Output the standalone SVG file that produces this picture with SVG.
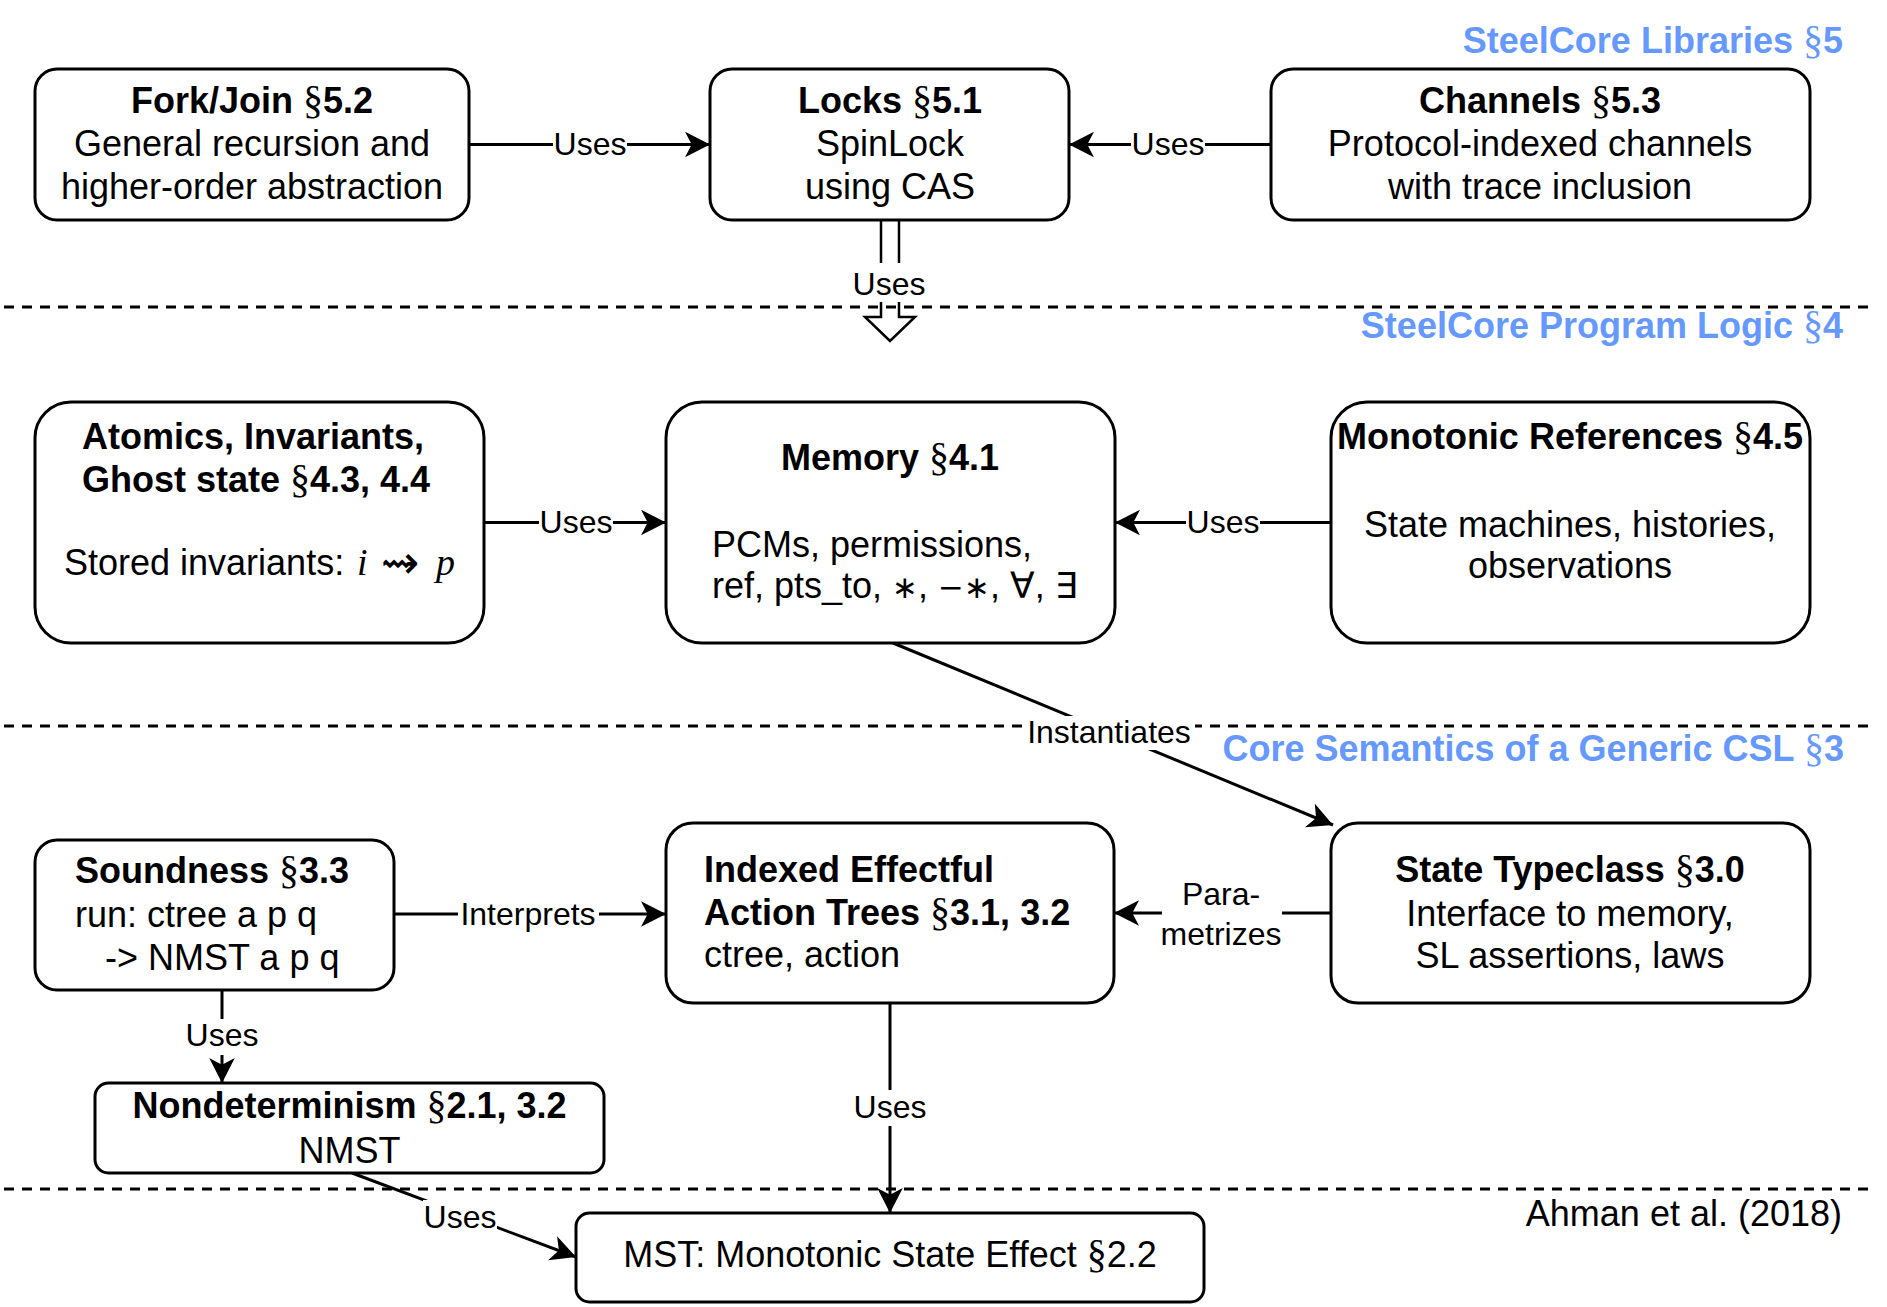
<svg xmlns="http://www.w3.org/2000/svg" width="1887" height="1307" viewBox="0 0 1887 1307">
<defs>
<style>
.box{fill:#fff;stroke:#000;stroke-width:3}
.t{font-family:"Liberation Sans",Arial,Helvetica,sans-serif;font-size:36px;fill:#000}
.b{font-weight:bold}
.c{text-anchor:middle}
.r{text-anchor:end}
.lbl{font-family:"Liberation Sans",Arial,Helvetica,sans-serif;font-size:32px;fill:#000;text-anchor:middle}
.sec{font-family:"Liberation Serif","Times New Roman",serif;font-weight:normal;font-size:40px}
.math{font-family:"DejaVu Sans",sans-serif;font-weight:normal;font-size:31px}
.q{font-family:"DejaVu Sans",sans-serif;font-weight:normal;font-size:36px}
.sq{font-family:"DejaVu Sans",sans-serif;font-weight:normal;font-size:46px}
.it{font-family:"Liberation Serif","Times New Roman",serif;font-style:italic;font-size:38px}
.blue{font-family:"Liberation Sans",Arial,Helvetica,sans-serif;font-size:36px;font-weight:bold;fill:#6699FF;text-anchor:end}
.dash{stroke:#000;stroke-width:3;stroke-dasharray:10 8;fill:none}
.edge{stroke:#000;stroke-width:3;fill:none}
.bg{fill:#fff}
</style>
<marker id="arr" markerUnits="userSpaceOnUse" markerWidth="26" markerHeight="26" refX="25" refY="12.8" orient="auto">
<path d="M0,0 L25,12.8 L0,25.6 L6.7,12.8 Z" fill="#000"/>
</marker>
</defs>
<rect x="0" y="0" width="1887" height="1307" fill="#fff"/>

<g id="layers">
<line class="dash" x1="4" y1="307" x2="1870" y2="307"/>
<line class="dash" x1="4" y1="726" x2="1870" y2="726"/>
<line class="dash" x1="4" y1="1189" x2="1870" y2="1189"/>
<text class="blue" x="1843" y="53">SteelCore Libraries <tspan class="sec">§</tspan>5</text>
<text class="blue" x="1843" y="338">SteelCore Program Logic <tspan class="sec">§</tspan>4</text>
<text class="blue" x="1844" y="761">Core Semantics of a Generic CSL <tspan class="sec">§</tspan>3</text>
<text class="t r" x="1842" y="1226">Ahman et al. (2018)</text>
</g>

<g id="connectors">
<line class="edge" x1="469" y1="144.5" x2="710" y2="144.5" marker-end="url(#arr)"/>
<rect class="bg" x="553" y="128" width="74" height="34"/>
<text class="lbl" x="590" y="155">Uses</text>

<line class="edge" x1="1271" y1="144.5" x2="1069" y2="144.5" marker-end="url(#arr)"/>
<rect class="bg" x="1131" y="128" width="74" height="34"/>
<text class="lbl" x="1168" y="155">Uses</text>

<path d="M881,220 V317 H865 L890,341 L915,317 H899 V220" fill="none" stroke="#000" stroke-width="2.5"/>
<rect class="bg" x="851" y="263" width="76" height="39"/>
<text class="lbl" x="889" y="295">Uses</text>

<line class="edge" x1="484" y1="522.5" x2="666" y2="522.5" marker-end="url(#arr)"/>
<rect class="bg" x="539" y="506" width="74" height="34"/>
<text class="lbl" x="576" y="533">Uses</text>

<line class="edge" x1="1331" y1="522.5" x2="1115" y2="522.5" marker-end="url(#arr)"/>
<rect class="bg" x="1186" y="506" width="74" height="34"/>
<text class="lbl" x="1223" y="533">Uses</text>

<line class="edge" x1="893" y1="643" x2="1333" y2="825" marker-end="url(#arr)"/>
<rect class="bg" x="1023" y="716" width="172" height="34"/>
<text class="lbl" x="1109" y="743">Instantiates</text>

<line class="edge" x1="394" y1="914" x2="666" y2="914" marker-end="url(#arr)"/>
<rect class="bg" x="458" y="898" width="141" height="34"/>
<text class="lbl" x="528" y="925">Interprets</text>

<line class="edge" x1="1331" y1="913" x2="1114" y2="913" marker-end="url(#arr)"/>
<rect class="bg" x="1162" y="880" width="120" height="74"/>
<text class="lbl" x="1221" y="905">Para-</text>
<text class="lbl" x="1221" y="945">metrizes</text>

<line class="edge" x1="222" y1="990" x2="222" y2="1083" marker-end="url(#arr)"/>
<rect class="bg" x="185" y="1019" width="74" height="36"/>
<text class="lbl" x="222" y="1046">Uses</text>

<line class="edge" x1="890" y1="1003" x2="890" y2="1213" marker-end="url(#arr)"/>
<rect class="bg" x="853" y="1090" width="74" height="36"/>
<text class="lbl" x="890" y="1118">Uses</text>

<line class="edge" x1="352" y1="1173" x2="576" y2="1257" marker-end="url(#arr)"/>
<rect class="bg" x="423" y="1200" width="74" height="34"/>
<text class="lbl" x="460" y="1228">Uses</text>
</g>

<g id="forkjoin">
<rect class="box" x="35" y="69" width="434" height="151" rx="22" ry="22"/>
<text class="t b c" x="252" y="113">Fork/Join <tspan class="sec">§</tspan>5.2</text>
<text class="t c" x="252" y="156">General recursion and</text>
<text class="t c" x="252" y="199">higher-order abstraction</text>
</g>

<g id="locks">
<rect class="box" x="710" y="69" width="359" height="151" rx="22" ry="22"/>
<text class="t b c" x="890" y="113">Locks <tspan class="sec">§</tspan>5.1</text>
<text class="t c" x="890" y="156">SpinLock</text>
<text class="t c" x="890" y="199">using CAS</text>
</g>

<g id="channels">
<rect class="box" x="1271" y="69" width="539" height="151" rx="22" ry="22"/>
<text class="t b c" x="1540" y="113">Channels <tspan class="sec">§</tspan>5.3</text>
<text class="t c" x="1540" y="156">Protocol-indexed channels</text>
<text class="t c" x="1540" y="199">with trace inclusion</text>
</g>

<g id="atomics">
<rect class="box" x="35" y="402" width="449" height="241" rx="36" ry="36"/>
<text class="t b" x="82" y="449">Atomics, Invariants,</text>
<text class="t b" x="82" y="492">Ghost state <tspan class="sec">§</tspan>4.3, 4.4</text>
<text class="t" x="64" y="575">Stored invariants: <tspan class="it" x="357">i</tspan><tspan class="sq" x="381" y="578">⇝</tspan><tspan class="it" x="436" y="575">p</tspan></text>
</g>

<g id="memory">
<rect class="box" x="666" y="402" width="449" height="241" rx="36" ry="36"/>
<text class="t b c" x="890" y="470">Memory <tspan class="sec">§</tspan>4.1</text>
<text class="t" x="712" y="557">PCMs, permissions,</text>
<text class="t" x="712" y="598">ref, pts_to, <tspan class="math">∗</tspan>, <tspan class="math">−∗</tspan>, <tspan class="q">∀</tspan>, <tspan class="q">∃</tspan></text>
</g>

<g id="monotonic">
<rect class="box" x="1331" y="402" width="479" height="241" rx="36" ry="36"/>
<text class="t b c" x="1570" y="449">Monotonic References <tspan class="sec">§</tspan>4.5</text>
<text class="t c" x="1570" y="537">State machines, histories,</text>
<text class="t c" x="1570" y="578">observations</text>
</g>

<g id="soundness">
<rect class="box" x="35" y="840" width="359" height="150" rx="22" ry="22"/>
<text class="t b" x="75" y="883">Soundness <tspan class="sec">§</tspan>3.3</text>
<text class="t" x="75" y="927">run: ctree a p q</text>
<text class="t" x="105" y="970">-&gt; NMST a p q</text>
</g>

<g id="indexed">
<rect class="box" x="666" y="823" width="448" height="180" rx="27" ry="27"/>
<text class="t b" x="704" y="882">Indexed Effectful</text>
<text class="t b" x="704" y="925">Action Trees <tspan class="sec">§</tspan>3.1, 3.2</text>
<text class="t" x="704" y="967">ctree, action</text>
</g>

<g id="state">
<rect class="box" x="1331" y="823" width="479" height="180" rx="27" ry="27"/>
<text class="t b c" x="1570" y="882">State Typeclass <tspan class="sec">§</tspan>3.0</text>
<text class="t c" x="1570" y="926">Interface to memory,</text>
<text class="t c" x="1570" y="968">SL assertions, laws</text>
</g>

<g id="nondeterminism">
<rect class="box" x="95" y="1083" width="509" height="90" rx="13.5" ry="13.5"/>
<text class="t b c" x="349.5" y="1118">Nondeterminism <tspan class="sec">§</tspan>2.1, 3.2</text>
<text class="t c" x="349.5" y="1163">NMST</text>
</g>

<g id="mst">
<rect class="box" x="576" y="1213" width="628" height="89" rx="13.5" ry="13.5"/>
<text class="t c" x="890" y="1267">MST: Monotonic State Effect <tspan class="sec">§</tspan>2.2</text>
</g>
</svg>
